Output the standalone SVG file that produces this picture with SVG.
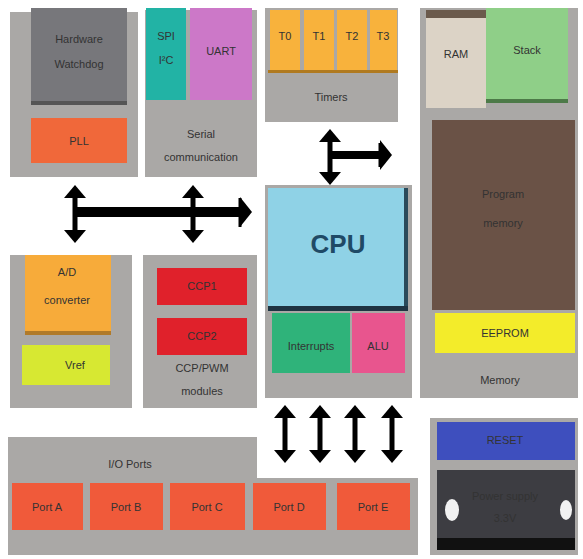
<svg xmlns="http://www.w3.org/2000/svg" width="583" height="559" viewBox="0 0 583 559">
<style>
.grp{fill:#aaa8a6}
.t{font-family:"Liberation Sans",Arial,sans-serif;font-size:11px;text-anchor:middle;fill:#333}
.bus{stroke:#000;fill:none}
</style>
<defs>
<marker id="ah" markerUnits="userSpaceOnUse" markerWidth="24" markerHeight="14" refX="0" refY="11" viewBox="0 0 24 14" orient="auto-start-reverse">
<path d="M0,11 L-11,0 L11,0 Z" transform="translate(12,0) rotate(0)" fill="#000"/>
</marker>
<marker id="vh" markerUnits="userSpaceOnUse" markerWidth="22" markerHeight="13" viewBox="0 0 22 13" refX="11" refY="13" orient="0">
<path d="M11,0 L22,13 L0,13 Z" fill="#000"/>
</marker>
<marker id="vt" markerUnits="userSpaceOnUse" markerWidth="22" markerHeight="13" viewBox="0 0 22 13" refX="11" refY="0" orient="0">
<path d="M11,13 L22,0 L0,0 Z" fill="#000"/>
</marker>
<marker id="hr" markerUnits="userSpaceOnUse" markerWidth="12" markerHeight="30" viewBox="0 0 12 30" refX="0" refY="15" orient="0">
<path d="M0,0 L12,15 L0,30 Z" fill="#000"/>
</marker>
</defs>

<g id="clock">
<rect class="grp" x="10" y="12" width="128" height="165"/>
<rect x="31" y="8" width="96" height="96" fill="#77777b"/>
<rect x="31" y="101" width="96" height="4" fill="#555"/>
<text class="t" x="79" y="43">Hardware</text>
<text class="t" x="79" y="68">Watchdog</text>
<rect x="31" y="118" width="96" height="45" fill="#f0683a"/>
<text class="t" x="79" y="145">PLL</text>
</g>

<g id="serial">
<rect class="grp" x="145" y="10" width="112" height="167" fill="#b0aeac"/>
<rect x="146" y="8" width="40" height="92" fill="#22b3a5"/>
<text class="t" x="166" y="40">SPI</text>
<text class="t" x="166" y="64">I²C</text>
<rect x="190" y="8" width="62" height="92" fill="#cc78c8"/>
<text class="t" x="221" y="55">UART</text>
<text class="t" x="201" y="138">Serial</text>
<text class="t" x="201" y="161">communication</text>
</g>

<g id="timers">
<rect class="grp" x="265" y="8" width="133" height="114"/>
<rect x="270" y="10" width="30" height="62" fill="#f8b23c"/>
<rect x="304" y="10" width="30" height="62" fill="#f8b23c"/>
<rect x="337" y="10" width="30" height="62" fill="#f8b23c"/>
<rect x="370" y="10" width="27" height="62" fill="#f8b23c"/>
<rect x="268" y="70" width="130" height="3" fill="#b07a20"/>
<text class="t" x="285" y="40">T0</text>
<text class="t" x="319" y="40">T1</text>
<text class="t" x="352" y="40">T2</text>
<text class="t" x="383" y="40">T3</text>
<text class="t" x="331" y="101">Timers</text>
</g>

<g id="memory">
<rect class="grp" x="420" y="8" width="158" height="390"/>
<rect x="426" y="10" width="60" height="98" fill="#dcd3c6"/>
<rect x="426" y="10" width="60" height="8" fill="#6b5a4c"/>
<text class="t" x="456" y="58">RAM</text>
<rect x="486" y="8" width="82" height="95" fill="#8fcf88"/>
<rect x="486" y="99" width="82" height="4" fill="#4d7a48"/>
<text class="t" x="527" y="54">Stack</text>
<rect x="432" y="120" width="143" height="190" fill="#6a5246"/>
<text class="t" x="503" y="198">Program</text>
<text class="t" x="503" y="227">memory</text>
<rect x="435" y="313" width="140" height="40" fill="#f3ec2a"/>
<text class="t" x="505" y="337">EEPROM</text>
<text class="t" x="500" y="384">Memory</text>
</g>

<g id="cpu">
<rect class="grp" x="265" y="185" width="147" height="213"/>
<rect x="268" y="188" width="140" height="122" fill="#8fd2e6"/>
<rect x="404" y="188" width="4" height="122" fill="#2a4a5a"/>
<rect x="268" y="306" width="140" height="5" fill="#1e3442"/>
<text x="338" y="253" style="font-family:'Liberation Sans',Arial,sans-serif;font-size:26px;font-weight:bold;text-anchor:middle;fill:#1f4a66">CPU</text>
<rect x="272" y="313" width="78" height="60" fill="#2fb37a"/>
<text class="t" x="311" y="350">Interrupts</text>
<rect x="352" y="313" width="53" height="60" fill="#e8558e"/>
<text class="t" x="378" y="350">ALU</text>
</g>

<g id="adc">
<rect class="grp" x="10" y="255" width="122" height="153"/>
<rect x="25" y="255" width="86" height="80" fill="#f7ab3a"/>
<rect x="25" y="331" width="86" height="4" fill="#b07a2a"/>
<text class="t" x="67" y="276">A/D</text>
<text class="t" x="67" y="304">converter</text>
<rect x="22" y="345" width="88" height="40" fill="#d7e832"/>
<text class="t" x="75" y="369">Vref</text>
</g>

<g id="ccp">
<rect class="grp" x="143" y="255" width="114" height="153"/>
<rect x="157" y="268" width="90" height="37" fill="#e0212b"/>
<text class="t" x="202" y="290">CCP1</text>
<rect x="157" y="318" width="90" height="37" fill="#e0212b"/>
<text class="t" x="202" y="340">CCP2</text>
<text class="t" x="202" y="372">CCP/PWM</text>
<text class="t" x="202" y="395">modules</text>
</g>

<g id="ports">
<path class="grp" d="M8,437 H257 V478 H418 V555 H8 Z"/>
<text class="t" x="130" y="468">I/O Ports</text>
<rect x="12" y="483" width="71" height="47" fill="#f05a3a"/>
<rect x="90" y="483" width="73" height="47" fill="#f05a3a"/>
<rect x="170" y="483" width="75" height="47" fill="#f05a3a"/>
<rect x="253" y="483" width="73" height="47" fill="#f05a3a"/>
<rect x="337" y="483" width="73" height="47" fill="#f05a3a"/>
<text class="t" x="47" y="511">Port A</text>
<text class="t" x="126" y="511">Port B</text>
<text class="t" x="207" y="511">Port C</text>
<text class="t" x="289" y="511">Port D</text>
<text class="t" x="373" y="511">Port E</text>
</g>

<g id="power">
<rect class="grp" x="430" y="418" width="148" height="137"/>
<rect x="437" y="422" width="138" height="38" fill="#3e4fbe"/>
<text class="t" x="505" y="444">RESET</text>
<rect x="437" y="470" width="138" height="80" fill="#3d3d42"/>
<rect x="437" y="538" width="138" height="12" fill="#111"/>
<ellipse cx="452" cy="510" rx="7" ry="11" fill="#f2f2f2"/>
<ellipse cx="566" cy="510" rx="6" ry="10" fill="#f2f2f2"/>
<text class="t" x="505" y="500">Power supply</text>
<text class="t" x="505" y="522">3.3V</text>
</g>

<g id="connectors">
<line class="bus" x1="75" y1="212" x2="240" y2="212" stroke-width="10" marker-end="url(#hr)"/>
<line class="bus" x1="240" y1="198" x2="240" y2="227" stroke-width="3"/>
<line class="bus" x1="75" y1="198" x2="75" y2="230" stroke-width="5" marker-start="url(#vh)" marker-end="url(#vt)"/>
<line class="bus" x1="193" y1="198" x2="193" y2="230" stroke-width="5" marker-start="url(#vh)" marker-end="url(#vt)"/>
<line class="bus" x1="330" y1="142" x2="330" y2="172" stroke-width="5" marker-start="url(#vh)" marker-end="url(#vt)"/>
<line class="bus" x1="330" y1="155" x2="380" y2="155" stroke-width="8" marker-end="url(#hr)"/>
<line class="bus" x1="380" y1="143" x2="380" y2="167" stroke-width="3"/>
<line class="bus" x1="285" y1="418" x2="285" y2="450" stroke-width="5" marker-start="url(#vh)" marker-end="url(#vt)"/>
<line class="bus" x1="320" y1="418" x2="320" y2="450" stroke-width="5" marker-start="url(#vh)" marker-end="url(#vt)"/>
<line class="bus" x1="355" y1="418" x2="355" y2="450" stroke-width="5" marker-start="url(#vh)" marker-end="url(#vt)"/>
<line class="bus" x1="392" y1="418" x2="392" y2="450" stroke-width="5" marker-start="url(#vh)" marker-end="url(#vt)"/>
</g>
</svg>
